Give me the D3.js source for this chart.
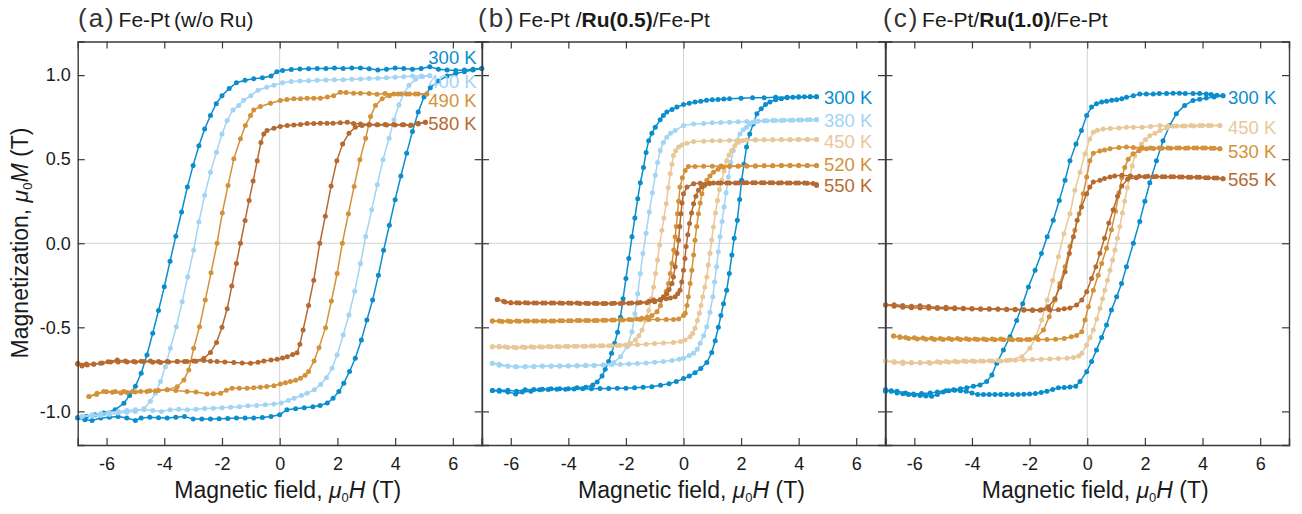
<!DOCTYPE html>
<html>
<head>
<meta charset="utf-8">
<script src="https://cdn.jsdelivr.net/npm/d3@7"></script>
<style>
  body { margin: 0; background: #fff; }
  text { font-family: "Liberation Sans", Arial, sans-serif; fill: #1a1a1a; }
</style>
</head>
<body>
<div id="chart"></div>
<script>
// ---- data: [field (T), magnetization (T)] ----
// (a) Fe-Pt (w/o Ru)
var a300Down = [[7.0,1.04],[6.7,1.035],[6.4,1.03],[6.1,1.028],[5.8,1.03],[5.5,1.035],[5.2,1.05],[4.9,1.04],[4.6,1.035],[4.3,1.04],[4.0,1.043],[3.7,1.035],[3.4,1.03],[3.1,1.038],[2.8,1.043],[2.5,1.042],[2.2,1.04],[1.9,1.042],[1.6,1.04],[1.3,1.04],[1.0,1.038],[0.7,1.036],[0.4,1.034],[0.1,1.028],[-0.1,1.02],[-0.3,0.995],[-0.6,0.985],[-0.9,0.978],[-1.2,0.97],[-1.5,0.955],[-1.75,0.92],[-2.0,0.878],[-2.2,0.83],[-2.4,0.76],[-2.6,0.68],[-2.8,0.58],[-3.0,0.463],[-3.2,0.334],[-3.4,0.186],[-3.6,0.042],[-3.8,-0.107],[-4.0,-0.259],[-4.2,-0.40],[-4.4,-0.536],[-4.6,-0.665],[-4.8,-0.773],[-5.0,-0.85],[-5.2,-0.905],[-5.4,-0.952],[-5.7,-0.99],[-6.1,-1.01],[-6.4,-1.02],[-6.7,-1.03],[-7.0,-1.037]];
var a300Up = [[-7.0,-1.04],[-6.75,-1.05],[-6.5,-1.054],[-6.2,-1.04],[-5.9,-1.035],[-5.6,-1.03],[-5.3,-1.04],[-5.0,-1.054],[-4.8,-1.04],[-4.5,-1.035],[-4.2,-1.038],[-3.9,-1.04],[-3.6,-1.035],[-3.3,-1.03],[-3.0,-1.046],[-2.7,-1.046],[-2.4,-1.046],[-2.1,-1.044],[-1.8,-1.042],[-1.5,-1.04],[-1.2,-1.04],[-0.9,-1.04],[-0.6,-1.036],[-0.3,-1.03],[0.0,-1.02],[0.25,-0.99],[0.55,-0.985],[0.85,-0.978],[1.15,-0.972],[1.4,-0.965],[1.65,-0.95],[1.85,-0.922],[2.05,-0.882],[2.22,-0.833],[2.42,-0.763],[2.62,-0.684],[2.83,-0.576],[3.02,-0.457],[3.22,-0.338],[3.42,-0.19],[3.6,-0.042],[3.8,0.107],[4.0,0.259],[4.2,0.40],[4.4,0.536],[4.6,0.665],[4.8,0.78],[5.0,0.87],[5.22,0.925],[5.5,0.965],[5.8,0.995],[6.1,1.01],[6.4,1.02],[6.7,1.03],[7.0,1.04]];
var a400Down = [[5.2,0.997],[4.9,0.995],[4.6,0.995],[4.3,0.99],[4.0,0.987],[3.7,0.985],[3.4,0.982],[3.1,0.98],[2.8,0.977],[2.5,0.975],[2.2,0.973],[1.9,0.972],[1.6,0.971],[1.3,0.969],[1.0,0.967],[0.7,0.965],[0.4,0.962],[0.1,0.955],[-0.2,0.94],[-0.45,0.928],[-0.75,0.91],[-1.0,0.878],[-1.25,0.85],[-1.42,0.82],[-1.62,0.793],[-1.82,0.73],[-2.0,0.65],[-2.19,0.542],[-2.4,0.423],[-2.6,0.285],[-2.8,0.127],[-2.98,-0.04],[-3.19,-0.20],[-3.38,-0.348],[-3.58,-0.497],[-3.79,-0.625],[-3.96,-0.734],[-4.13,-0.823],[-4.31,-0.892],[-4.48,-0.94],[-4.71,-0.985],[-5.0,-1.0],[-5.3,-1.005],[-5.6,-1.01],[-5.9,-1.018],[-6.2,-1.024],[-6.5,-1.027],[-6.85,-1.03]];
var a400Up = [[-6.85,-1.03],[-6.5,-1.02],[-6.2,-1.012],[-5.9,-1.007],[-5.6,-1.0],[-5.3,-0.995],[-5.0,-0.99],[-4.7,-0.99],[-4.4,-0.995],[-4.1,-1.0],[-3.8,-0.99],[-3.5,-0.987],[-3.2,-0.99],[-2.9,-0.988],[-2.6,-0.983],[-2.3,-0.981],[-2.0,-0.978],[-1.7,-0.975],[-1.4,-0.972],[-1.1,-0.967],[-0.8,-0.965],[-0.5,-0.961],[-0.2,-0.956],[0.05,-0.95],[0.3,-0.935],[0.5,-0.922],[0.75,-0.905],[0.95,-0.892],[1.2,-0.872],[1.42,-0.84],[1.62,-0.8],[1.81,-0.744],[1.99,-0.665],[2.2,-0.546],[2.4,-0.427],[2.6,-0.285],[2.8,-0.12],[2.98,0.04],[3.19,0.2],[3.38,0.348],[3.58,0.497],[3.79,0.625],[3.96,0.734],[4.13,0.823],[4.31,0.892],[4.48,0.94],[4.71,0.975],[4.95,0.99],[5.2,0.997]];
var a490Down = [[5.1,0.888],[4.8,0.888],[4.5,0.888],[4.2,0.887],[3.95,0.888],[3.65,0.89],[3.37,0.886],[3.1,0.89],[2.8,0.892],[2.56,0.892],[2.3,0.896],[2.1,0.898],[1.87,0.878],[1.65,0.87],[1.41,0.862],[1.18,0.862],[0.95,0.862],[0.72,0.86],[0.49,0.859],[0.25,0.855],[0.02,0.849],[-0.32,0.833],[-0.67,0.813],[-0.9,0.793],[-1.01,0.76],[-1.19,0.70],[-1.36,0.621],[-1.59,0.502],[-1.79,0.344],[-1.99,0.18],[-2.17,0.0],[-2.38,-0.176],[-2.58,-0.338],[-2.78,-0.497],[-2.98,-0.625],[-3.15,-0.754],[-3.32,-0.813],[-3.55,-0.853],[-3.9,-0.872],[-4.2,-0.876],[-4.5,-0.878],[-4.82,-0.882],[-5.1,-0.882],[-5.4,-0.882],[-5.7,-0.882],[-6.0,-0.884],[-6.33,-0.892],[-6.61,-0.912]];
var a490Up = [[-6.61,-0.912],[-6.35,-0.9],[-6.1,-0.882],[-5.8,-0.886],[-5.5,-0.89],[-5.29,-0.888],[-5.0,-0.885],[-4.6,-0.882],[-4.3,-0.877],[-3.9,-0.872],[-3.6,-0.876],[-3.21,-0.882],[-2.9,-0.885],[-2.52,-0.896],[-2.3,-0.895],[-2.05,-0.892],[-1.85,-0.875],[-1.65,-0.862],[-1.4,-0.862],[-1.13,-0.862],[-0.9,-0.86],[-0.67,-0.856],[-0.45,-0.852],[-0.2,-0.848],[0.02,-0.837],[0.2,-0.83],[0.37,-0.823],[0.55,-0.815],[0.72,-0.803],[0.88,-0.785],[1.0,-0.763],[1.19,-0.70],[1.36,-0.621],[1.59,-0.502],[1.79,-0.344],[1.99,-0.18],[2.17,0.0],[2.38,0.176],[2.58,0.338],[2.78,0.497],[2.98,0.625],[3.15,0.754],[3.32,0.82],[3.55,0.86],[3.8,0.878],[4.1,0.888],[4.4,0.888],[4.7,0.887],[5.1,0.888]];
var a580Down = [[5.05,0.72],[4.8,0.714],[4.53,0.70],[4.25,0.705],[3.95,0.706],[3.65,0.706],[3.37,0.705],[3.1,0.708],[2.8,0.71],[2.56,0.712],[2.34,0.72],[2.1,0.716],[1.85,0.714],[1.64,0.714],[1.41,0.714],[1.18,0.712],[0.95,0.712],[0.72,0.706],[0.49,0.704],[0.26,0.70],[0.02,0.694],[-0.2,0.684],[-0.44,0.67],[-0.55,0.65],[-0.65,0.6],[-0.78,0.49],[-0.92,0.37],[-1.06,0.255],[-1.2,0.136],[-1.36,0.0],[-1.5,-0.12],[-1.66,-0.255],[-1.82,-0.39],[-2.0,-0.5],[-2.19,-0.59],[-2.4,-0.65],[-2.63,-0.685],[-2.98,-0.70],[-3.3,-0.704],[-3.55,-0.704],[-3.85,-0.706],[-4.13,-0.71],[-4.4,-0.708],[-4.71,-0.704],[-5.0,-0.706],[-5.29,-0.707],[-5.6,-0.707],[-5.86,-0.707],[-6.15,-0.712],[-6.44,-0.72],[-6.7,-0.718],[-7.0,-0.714]];
var a580Up = [[-7.0,-0.72],[-6.85,-0.73],[-6.67,-0.724],[-6.45,-0.718],[-6.21,-0.714],[-5.95,-0.705],[-5.63,-0.695],[-5.35,-0.70],[-5.06,-0.704],[-4.8,-0.702],[-4.48,-0.7],[-4.2,-0.703],[-3.9,-0.704],[-3.55,-0.703],[-3.21,-0.704],[-2.9,-0.702],[-2.63,-0.698],[-2.4,-0.702],[-2.17,-0.704],[-1.9,-0.706],[-1.59,-0.71],[-1.3,-0.712],[-1.01,-0.714],[-0.75,-0.708],[-0.55,-0.70],[-0.3,-0.695],[-0.09,-0.69],[0.1,-0.682],[0.26,-0.675],[0.45,-0.662],[0.6,-0.651],[0.7,-0.6],[0.81,-0.516],[1.0,-0.37],[1.18,-0.22],[1.39,0.0],[1.58,0.16],[1.78,0.34],[1.98,0.49],[2.18,0.59],[2.4,0.655],[2.62,0.69],[2.85,0.70],[3.1,0.704],[3.4,0.705],[3.7,0.704],[4.0,0.704],[4.3,0.705],[4.55,0.704],[4.8,0.71],[5.05,0.72]];

// (b) Fe-Pt/Ru(0.5)/Fe-Pt
var b300Down = [[4.62,0.872],[4.4,0.872],[4.0,0.87],[3.6,0.869],[3.2,0.868],[2.8,0.866],[2.4,0.865],[2.0,0.862],[1.6,0.86],[1.4,0.858],[1.2,0.855],[1.0,0.853],[0.8,0.85],[0.6,0.845],[0.4,0.84],[0.2,0.832],[0.0,0.825],[-0.23,0.81],[-0.4,0.795],[-0.58,0.78],[-0.7,0.76],[-0.81,0.734],[-0.98,0.69],[-1.1,0.655],[-1.21,0.61],[-1.3,0.54],[-1.39,0.45],[-1.5,0.36],[-1.59,0.265],[-1.69,0.15],[-1.79,0.038],[-1.9,-0.09],[-2.0,-0.21],[-2.1,-0.33],[-2.19,-0.44],[-2.29,-0.53],[-2.39,-0.595],[-2.5,-0.655],[-2.6,-0.704],[-2.72,-0.75],[-2.83,-0.79],[-3.0,-0.825],[-3.15,-0.843],[-3.4,-0.857],[-3.7,-0.86],[-4.0,-0.865],[-4.3,-0.866],[-4.6,-0.866],[-4.9,-0.868],[-5.2,-0.87],[-5.5,-0.872],[-5.8,-0.88],[-6.1,-0.875],[-6.4,-0.874],[-6.64,-0.876]];
var b300Up = [[-6.64,-0.876],[-6.4,-0.88],[-6.1,-0.885],[-5.83,-0.896],[-5.6,-0.885],[-5.3,-0.88],[-5.0,-0.872],[-4.7,-0.87],[-4.4,-0.868],[-4.1,-0.868],[-3.8,-0.867],[-3.5,-0.866],[-3.2,-0.865],[-2.9,-0.864],[-2.6,-0.864],[-2.3,-0.863],[-2.0,-0.862],[-1.7,-0.86],[-1.4,-0.857],[-1.1,-0.853],[-0.8,-0.845],[-0.5,-0.835],[-0.25,-0.823],[0.0,-0.805],[0.2,-0.79],[0.4,-0.77],[0.6,-0.745],[0.81,-0.71],[0.98,-0.65],[1.1,-0.58],[1.21,-0.5],[1.3,-0.43],[1.39,-0.36],[1.5,-0.28],[1.59,-0.18],[1.68,-0.07],[1.76,0.03],[1.87,0.137],[1.95,0.26],[2.02,0.374],[2.1,0.47],[2.19,0.572],[2.3,0.65],[2.42,0.71],[2.55,0.77],[2.7,0.8],[2.85,0.825],[3.0,0.84],[3.2,0.853],[3.4,0.86],[3.6,0.865],[3.8,0.868],[4.0,0.87],[4.2,0.871],[4.4,0.872],[4.62,0.872]];
var b380Down = [[4.62,0.734],[4.3,0.734],[4.0,0.733],[3.7,0.732],[3.4,0.73],[3.1,0.73],[2.8,0.728],[2.5,0.726],[2.2,0.724],[1.9,0.722],[1.6,0.72],[1.3,0.718],[1.0,0.716],[0.7,0.713],[0.35,0.71],[0.0,0.70],[-0.29,0.67],[-0.45,0.655],[-0.58,0.63],[-0.7,0.6],[-0.81,0.552],[-0.9,0.48],[-0.98,0.404],[-1.08,0.3],[-1.19,0.186],[-1.3,0.06],[-1.41,-0.061],[-1.5,-0.18],[-1.59,-0.30],[-1.69,-0.42],[-1.79,-0.526],[-1.96,-0.615],[-2.19,-0.675],[-2.42,-0.71],[-2.77,-0.724],[-3.1,-0.727],[-3.4,-0.728],[-3.7,-0.73],[-4.0,-0.73],[-4.3,-0.731],[-4.6,-0.732],[-4.9,-0.732],[-5.2,-0.733],[-5.5,-0.733],[-5.83,-0.734],[-6.1,-0.73],[-6.4,-0.72],[-6.64,-0.714]];
var b380Up = [[-6.64,-0.714],[-6.4,-0.725],[-6.1,-0.732],[-5.8,-0.734],[-5.5,-0.735],[-5.2,-0.733],[-4.9,-0.73],[-4.6,-0.73],[-4.3,-0.728],[-4.0,-0.728],[-3.7,-0.727],[-3.4,-0.726],[-3.1,-0.725],[-2.8,-0.724],[-2.5,-0.722],[-2.2,-0.72],[-1.9,-0.718],[-1.6,-0.715],[-1.3,-0.712],[-1.0,-0.708],[-0.7,-0.703],[-0.4,-0.697],[-0.15,-0.69],[0.0,-0.684],[0.2,-0.668],[0.35,-0.655],[0.48,-0.63],[0.58,-0.595],[0.7,-0.55],[0.81,-0.497],[0.92,-0.41],[1.02,-0.318],[1.08,-0.23],[1.15,-0.14],[1.21,-0.05],[1.27,0.038],[1.34,0.13],[1.41,0.216],[1.48,0.3],[1.56,0.394],[1.64,0.48],[1.73,0.552],[1.85,0.61],[1.96,0.65],[2.08,0.675],[2.19,0.69],[2.3,0.706],[2.42,0.72],[2.6,0.726],[2.9,0.728],[3.2,0.73],[3.5,0.731],[3.8,0.732],[4.1,0.733],[4.4,0.734],[4.62,0.734]];
var b450Down = [[4.62,0.617],[4.3,0.617],[4.0,0.617],[3.7,0.616],[3.4,0.616],[3.1,0.615],[2.8,0.615],[2.5,0.614],[2.2,0.613],[1.9,0.612],[1.6,0.611],[1.27,0.61],[1.0,0.609],[0.7,0.607],[0.35,0.605],[0.12,0.595],[-0.05,0.585],[-0.17,0.572],[-0.27,0.55],[-0.35,0.522],[-0.4,0.47],[-0.46,0.413],[-0.53,0.33],[-0.6,0.235],[-0.68,0.15],[-0.75,0.077],[-0.83,-0.01],[-0.9,-0.10],[-0.97,-0.18],[-1.04,-0.26],[-1.12,-0.33],[-1.21,-0.40],[-1.32,-0.46],[-1.44,-0.516],[-1.55,-0.55],[-1.67,-0.576],[-1.85,-0.595],[-2.02,-0.605],[-2.3,-0.608],[-2.6,-0.61],[-2.9,-0.61],[-3.2,-0.611],[-3.5,-0.612],[-3.8,-0.612],[-4.1,-0.613],[-4.4,-0.614],[-4.7,-0.614],[-5.0,-0.615],[-5.3,-0.616],[-5.6,-0.617],[-5.9,-0.618],[-6.2,-0.615],[-6.4,-0.613],[-6.64,-0.615]];
var b450Up = [[-6.64,-0.615],[-6.4,-0.617],[-6.1,-0.62],[-5.8,-0.622],[-5.5,-0.62],[-5.2,-0.618],[-4.9,-0.617],[-4.6,-0.616],[-4.3,-0.615],[-4.0,-0.614],[-3.7,-0.613],[-3.4,-0.612],[-3.1,-0.611],[-2.8,-0.61],[-2.5,-0.609],[-2.2,-0.607],[-1.9,-0.605],[-1.6,-0.603],[-1.3,-0.6],[-1.0,-0.597],[-0.7,-0.594],[-0.35,-0.59],[-0.1,-0.585],[0.05,-0.575],[0.23,-0.556],[0.32,-0.535],[0.4,-0.506],[0.48,-0.46],[0.55,-0.417],[0.61,-0.37],[0.67,-0.318],[0.74,-0.26],[0.81,-0.20],[0.86,-0.13],[0.92,-0.06],[0.98,0.02],[1.04,0.097],[1.11,0.18],[1.18,0.255],[1.25,0.32],[1.33,0.374],[1.41,0.43],[1.5,0.49],[1.58,0.525],[1.67,0.552],[1.78,0.58],[1.9,0.60],[2.05,0.61],[2.19,0.614],[2.5,0.615],[2.8,0.616],[3.1,0.616],[3.4,0.617],[3.7,0.617],[4.0,0.617],[4.3,0.618],[4.62,0.617]];
var b520Down = [[4.62,0.463],[4.3,0.463],[4.0,0.463],[3.7,0.462],[3.4,0.462],[3.1,0.461],[2.8,0.461],[2.5,0.46],[2.2,0.46],[1.9,0.46],[1.6,0.459],[1.3,0.459],[1.0,0.458],[0.7,0.458],[0.4,0.457],[0.17,0.457],[0.06,0.433],[-0.04,0.39],[-0.12,0.334],[-0.17,0.25],[-0.21,0.176],[-0.25,0.1],[-0.29,0.038],[-0.34,-0.04],[-0.4,-0.12],[-0.46,-0.18],[-0.52,-0.24],[-0.6,-0.285],[-0.69,-0.318],[-0.8,-0.37],[-0.92,-0.407],[-1.1,-0.43],[-1.27,-0.44],[-1.45,-0.446],[-1.62,-0.45],[-1.9,-0.453],[-2.2,-0.455],[-2.5,-0.457],[-2.8,-0.458],[-3.1,-0.459],[-3.4,-0.46],[-3.7,-0.46],[-4.0,-0.461],[-4.3,-0.461],[-4.6,-0.462],[-4.9,-0.462],[-5.2,-0.462],[-5.5,-0.463],[-5.8,-0.463],[-6.1,-0.463],[-6.4,-0.463],[-6.64,-0.463]];
var b520Up = [[-6.64,-0.463],[-6.3,-0.465],[-6.0,-0.466],[-5.7,-0.464],[-5.4,-0.463],[-5.1,-0.463],[-4.8,-0.462],[-4.5,-0.462],[-4.2,-0.461],[-3.9,-0.461],[-3.6,-0.46],[-3.3,-0.46],[-3.0,-0.459],[-2.7,-0.458],[-2.4,-0.457],[-2.1,-0.456],[-1.8,-0.455],[-1.5,-0.454],[-1.2,-0.454],[-0.9,-0.453],[-0.6,-0.453],[-0.35,-0.453],[-0.17,-0.45],[0.0,-0.43],[0.06,-0.417],[0.12,-0.37],[0.17,-0.318],[0.23,-0.24],[0.29,-0.16],[0.35,-0.07],[0.4,0.018],[0.46,0.1],[0.52,0.176],[0.58,0.24],[0.64,0.295],[0.72,0.34],[0.81,0.374],[0.92,0.4],[1.04,0.423],[1.2,0.44],[1.39,0.453],[1.6,0.456],[1.9,0.458],[2.2,0.459],[2.5,0.46],[2.8,0.461],[3.1,0.461],[3.4,0.462],[3.7,0.462],[4.0,0.463],[4.3,0.463],[4.62,0.463]];
var b550Down = [[4.62,0.344],[4.5,0.355],[4.2,0.358],[3.9,0.358],[3.6,0.359],[3.3,0.359],[3.0,0.36],[2.7,0.36],[2.4,0.36],[2.1,0.36],[1.8,0.359],[1.5,0.358],[1.2,0.358],[0.9,0.357],[0.58,0.357],[0.35,0.354],[0.12,0.334],[0.0,0.295],[-0.05,0.24],[-0.09,0.176],[-0.13,0.1],[-0.17,0.018],[-0.23,-0.06],[-0.29,-0.14],[-0.35,-0.2],[-0.4,-0.24],[-0.5,-0.275],[-0.58,-0.30],[-0.7,-0.32],[-0.81,-0.338],[-1.0,-0.348],[-1.27,-0.354],[-1.6,-0.356],[-1.9,-0.357],[-2.2,-0.358],[-2.5,-0.358],[-2.8,-0.358],[-3.1,-0.357],[-3.4,-0.357],[-3.7,-0.356],[-4.0,-0.356],[-4.3,-0.355],[-4.6,-0.355],[-4.9,-0.355],[-5.2,-0.355],[-5.5,-0.354],[-5.8,-0.354],[-6.0,-0.354],[-6.25,-0.345],[-6.47,-0.334]];
var b550Up = [[-6.47,-0.334],[-6.2,-0.35],[-6.0,-0.354],[-5.7,-0.356],[-5.4,-0.356],[-5.1,-0.356],[-4.8,-0.355],[-4.5,-0.356],[-4.2,-0.357],[-3.9,-0.357],[-3.6,-0.358],[-3.3,-0.358],[-3.0,-0.358],[-2.7,-0.358],[-2.4,-0.357],[-2.1,-0.356],[-1.8,-0.355],[-1.5,-0.352],[-1.2,-0.345],[-1.04,-0.338],[-0.8,-0.335],[-0.6,-0.33],[-0.46,-0.325],[-0.29,-0.318],[-0.2,-0.3],[-0.12,-0.279],[-0.06,-0.23],[0.0,-0.16],[0.05,-0.09],[0.09,-0.02],[0.15,0.05],[0.21,0.117],[0.28,0.18],[0.35,0.235],[0.43,0.28],[0.52,0.315],[0.63,0.335],[0.75,0.35],[0.9,0.355],[1.04,0.358],[1.3,0.358],[1.6,0.359],[1.9,0.359],[2.2,0.36],[2.5,0.36],[2.8,0.36],[3.1,0.36],[3.4,0.36],[3.7,0.359],[4.0,0.358],[4.3,0.357],[4.62,0.35]];

// (c) Fe-Pt/Ru(1.0)/Fe-Pt
var c300Down = [[4.71,0.878],[4.5,0.88],[4.3,0.885],[4.13,0.888],[3.9,0.89],[3.67,0.89],[3.4,0.891],[3.2,0.892],[2.98,0.892],[2.75,0.891],[2.5,0.89],[2.29,0.888],[2.05,0.888],[1.82,0.888],[1.6,0.878],[1.36,0.868],[1.2,0.86],[1.02,0.853],[0.85,0.85],[0.67,0.845],[0.5,0.84],[0.32,0.829],[0.15,0.81],[-0.02,0.76],[-0.2,0.67],[-0.39,0.59],[-0.6,0.49],[-0.77,0.374],[-0.97,0.255],[-1.18,0.137],[-1.39,0.038],[-1.59,-0.061],[-1.81,-0.16],[-2.04,-0.26],[-2.24,-0.36],[-2.45,-0.46],[-2.68,-0.556],[-2.91,-0.635],[-3.14,-0.714],[-3.31,-0.783],[-3.49,-0.823],[-3.72,-0.843],[-3.95,-0.85],[-4.18,-0.86],[-4.4,-0.865],[-4.64,-0.872],[-4.9,-0.878],[-5.2,-0.885],[-5.45,-0.89],[-5.75,-0.893],[-6.03,-0.896],[-6.3,-0.89],[-6.6,-0.88],[-6.8,-0.878],[-7.0,-0.88]];
var c300Up = [[-7.0,-0.87],[-6.8,-0.88],[-6.6,-0.89],[-6.4,-0.895],[-6.2,-0.9],[-6.0,-0.903],[-5.8,-0.905],[-5.6,-0.908],[-5.4,-0.91],[-5.2,-0.9],[-5.0,-0.885],[-4.8,-0.878],[-4.6,-0.875],[-4.4,-0.877],[-4.2,-0.88],[-4.0,-0.89],[-3.8,-0.9],[-3.6,-0.9],[-3.4,-0.9],[-3.2,-0.9],[-3.0,-0.9],[-2.8,-0.9],[-2.6,-0.9],[-2.4,-0.899],[-2.2,-0.898],[-2.0,-0.896],[-1.8,-0.893],[-1.6,-0.888],[-1.4,-0.88],[-1.2,-0.87],[-1.0,-0.86],[-0.8,-0.858],[-0.6,-0.855],[-0.4,-0.85],[-0.25,-0.823],[-0.02,-0.764],[0.15,-0.704],[0.32,-0.635],[0.5,-0.56],[0.67,-0.486],[0.84,-0.397],[1.02,-0.318],[1.19,-0.24],[1.36,-0.14],[1.6,0.0],[1.82,0.13],[2.0,0.25],[2.17,0.36],[2.4,0.49],[2.63,0.61],[2.86,0.70],[3.09,0.77],[3.38,0.82],[3.67,0.849],[3.9,0.857],[4.13,0.864],[4.4,0.87],[4.71,0.878]];
var c450Down = [[4.6,0.70],[4.3,0.70],[4.0,0.70],[3.7,0.698],[3.4,0.697],[3.1,0.698],[2.8,0.697],[2.52,0.70],[2.2,0.695],[1.9,0.69],[1.6,0.69],[1.36,0.69],[1.1,0.685],[0.8,0.682],[0.55,0.68],[0.35,0.672],[0.21,0.66],[0.09,0.62],[-0.08,0.532],[-0.25,0.423],[-0.43,0.315],[-0.6,0.176],[-0.81,0.057],[-1.0,-0.08],[-1.2,-0.22],[-1.39,-0.338],[-1.58,-0.457],[-1.78,-0.556],[-1.99,-0.625],[-2.27,-0.675],[-2.68,-0.694],[-3.0,-0.70],[-3.3,-0.70],[-3.6,-0.702],[-3.9,-0.703],[-4.2,-0.704],[-4.5,-0.706],[-4.8,-0.708],[-5.1,-0.71],[-5.45,-0.714],[-5.8,-0.712],[-6.1,-0.71],[-6.4,-0.706],[-6.7,-0.704],[-7.0,-0.70]];
var c450Up = [[-7.0,-0.70],[-6.7,-0.71],[-6.4,-0.715],[-6.1,-0.712],[-5.8,-0.71],[-5.5,-0.708],[-5.2,-0.705],[-4.9,-0.703],[-4.6,-0.702],[-4.3,-0.701],[-4.0,-0.7],[-3.7,-0.7],[-3.4,-0.699],[-3.1,-0.698],[-2.8,-0.697],[-2.5,-0.696],[-2.2,-0.694],[-1.9,-0.692],[-1.6,-0.69],[-1.3,-0.688],[-1.0,-0.686],[-0.7,-0.684],[-0.48,-0.68],[-0.3,-0.67],[-0.19,-0.655],[-0.02,-0.605],[0.1,-0.56],[0.21,-0.516],[0.33,-0.45],[0.44,-0.388],[0.53,-0.33],[0.61,-0.28],[0.7,-0.22],[0.79,-0.16],[0.88,-0.1],[0.96,-0.04],[1.05,0.03],[1.13,0.1],[1.22,0.18],[1.3,0.25],[1.39,0.33],[1.48,0.4],[1.56,0.46],[1.65,0.52],[1.76,0.56],[1.88,0.59],[2.02,0.615],[2.17,0.64],[2.35,0.655],[2.52,0.67],[2.75,0.685],[2.98,0.696],[3.3,0.698],[3.6,0.7],[3.9,0.7],[4.2,0.7],[4.6,0.70]];
var c530Down = [[4.6,0.562],[4.3,0.565],[4.0,0.566],[3.7,0.566],[3.4,0.565],[3.1,0.566],[2.8,0.566],[2.5,0.567],[2.2,0.567],[1.9,0.568],[1.6,0.57],[1.36,0.572],[1.1,0.57],[0.79,0.562],[0.6,0.555],[0.44,0.548],[0.21,0.536],[0.09,0.49],[-0.02,0.394],[-0.14,0.295],[-0.28,0.176],[-0.43,0.077],[-0.6,-0.02],[-0.77,-0.14],[-0.95,-0.24],[-1.12,-0.338],[-1.32,-0.437],[-1.52,-0.516],[-1.76,-0.56],[-2.1,-0.572],[-2.4,-0.572],[-2.7,-0.571],[-3.0,-0.57],[-3.3,-0.57],[-3.6,-0.569],[-3.9,-0.569],[-4.2,-0.568],[-4.5,-0.567],[-4.8,-0.566],[-5.1,-0.566],[-5.4,-0.565],[-5.7,-0.564],[-6.0,-0.562],[-6.3,-0.56],[-6.5,-0.556],[-6.72,-0.552]];
var c530Up = [[-6.72,-0.552],[-6.5,-0.56],[-6.2,-0.566],[-5.9,-0.57],[-5.6,-0.571],[-5.3,-0.572],[-5.0,-0.572],[-4.7,-0.572],[-4.4,-0.572],[-4.1,-0.573],[-3.8,-0.573],[-3.5,-0.574],[-3.2,-0.574],[-2.9,-0.574],[-2.6,-0.574],[-2.3,-0.574],[-2.0,-0.573],[-1.7,-0.573],[-1.4,-0.572],[-1.1,-0.571],[-0.8,-0.566],[-0.55,-0.556],[-0.37,-0.548],[-0.19,-0.526],[-0.08,-0.457],[0.04,-0.378],[0.21,-0.28],[0.38,-0.19],[0.5,-0.12],[0.67,-0.03],[0.84,0.08],[0.98,0.19],[1.1,0.3],[1.2,0.39],[1.3,0.45],[1.42,0.5],[1.59,0.532],[1.8,0.55],[2.06,0.562],[2.3,0.564],[2.6,0.565],[2.9,0.565],[3.2,0.566],[3.5,0.566],[3.8,0.566],[4.1,0.566],[4.4,0.565],[4.6,0.562]];
var c565Down = [[4.71,0.384],[4.5,0.388],[4.2,0.39],[3.9,0.392],[3.6,0.393],[3.3,0.394],[3.0,0.395],[2.7,0.396],[2.4,0.397],[2.1,0.398],[1.8,0.398],[1.5,0.4],[1.2,0.404],[0.95,0.4],[0.79,0.394],[0.6,0.385],[0.44,0.374],[0.21,0.364],[0.09,0.334],[-0.02,0.295],[-0.2,0.216],[-0.35,0.137],[-0.48,0.038],[-0.62,-0.061],[-0.77,-0.17],[-0.95,-0.26],[-1.12,-0.33],[-1.35,-0.378],[-1.64,-0.398],[-1.9,-0.4],[-2.2,-0.398],[-2.5,-0.395],[-2.8,-0.394],[-3.1,-0.393],[-3.4,-0.392],[-3.7,-0.392],[-4.0,-0.391],[-4.3,-0.39],[-4.6,-0.39],[-4.9,-0.389],[-5.2,-0.388],[-5.5,-0.386],[-5.8,-0.385],[-6.1,-0.384],[-6.4,-0.38],[-6.7,-0.374],[-7.0,-0.368]];
var c565Up = [[-7.0,-0.368],[-6.7,-0.366],[-6.4,-0.37],[-6.1,-0.375],[-5.8,-0.372],[-5.5,-0.376],[-5.2,-0.382],[-4.9,-0.38],[-4.6,-0.384],[-4.3,-0.386],[-4.0,-0.388],[-3.7,-0.389],[-3.4,-0.39],[-3.1,-0.391],[-2.8,-0.392],[-2.5,-0.393],[-2.2,-0.394],[-1.9,-0.395],[-1.6,-0.396],[-1.3,-0.397],[-1.0,-0.395],[-0.8,-0.39],[-0.6,-0.385],[-0.37,-0.368],[-0.19,-0.338],[-0.02,-0.289],[0.15,-0.21],[0.3,-0.14],[0.44,-0.06],[0.6,0.03],[0.75,0.12],[0.9,0.2],[1.05,0.28],[1.2,0.34],[1.4,0.38],[1.7,0.39],[2.0,0.395],[2.3,0.396],[2.6,0.396],[2.9,0.395],[3.2,0.394],[3.5,0.393],[3.8,0.392],[4.1,0.39],[4.4,0.388],[4.71,0.384]];

// temperatures and where their labels sit (field, magnetization)
var tempsA = ["300 K", "400 K", "490 K", "580 K"];
var tempsB = ["300 K", "380 K", "450 K", "520 K", "550 K"];
var tempsC = ["300 K", "450 K", "530 K", "565 K"];
var labelFieldA = 5.15, labelFieldB = 4.88, labelFieldC = 4.88;
var labelMA = [1.107, 0.964, 0.852, 0.712];
var labelMB = [0.866, 0.733, 0.605, 0.469, 0.347];
var labelMC = [0.866, 0.688, 0.549, 0.380];

var fieldTicks = [-6, -4, -2, 0, 2, 4, 6];
var magTicks = [-1.0, -0.5, 0.0, 0.5, 1.0];

// colours per temperature
var col = {
  "300 K": "#0a8dcd", "380 K": "#a2d4f3", "400 K": "#a2d4f3",
  "450 K": "#e8c898", "490 K": "#d3923a", "520 K": "#d3923a", "530 K": "#d3923a",
  "550 K": "#b66a30", "565 K": "#b66a30", "580 K": "#b66a30"
};

var panels = [
  { tag: "(a)", left: 77.7, right: 481.7, temps: tempsA, down: [a300Down, a400Down, a490Down, a580Down], up: [a300Up, a400Up, a490Up, a580Up],
    labelField: labelFieldA, labelM: labelMA, titleX: 78,
    title: [["Fe-Pt", "normal"], ["\u2009(w/o Ru)", "normal"]] },
  { tag: "(b)", left: 482, right: 885, temps: tempsB, down: [b300Down, b380Down, b450Down, b520Down, b550Down], up: [b300Up, b380Up, b450Up, b520Up, b550Up],
    labelField: labelFieldB, labelM: labelMB, titleX: 478,
    title: [["Fe-Pt /", "normal"], ["Ru(0.5)", "bold"], ["/Fe-Pt", "normal"]] },
  { tag: "(c)", left: 885.5, right: 1289, temps: tempsC, down: [c300Down, c450Down, c530Down, c565Down], up: [c300Up, c450Up, c530Up, c565Up],
    labelField: labelFieldC, labelM: labelMC, titleX: 883,
    title: [["Fe-Pt/", "normal"], ["Ru(1.0)", "bold"], ["/Fe-Pt", "normal"]] }
];

var W = 1302, H = 514, plotTop = 41.5, plotBottom = 445;

var svg = d3.select("#chart").append("svg")
    .attr("width", W)
    .attr("height", H);

var y = d3.scaleLinear().domain([-1.2, 1.2]).range([plotBottom, plotTop]);

panels.forEach(function(p, pi) {
  var x = d3.scaleLinear().domain([-7, 7]).range([p.left, p.right]);
  var g = svg.append("g");

  // zero lines
  g.append("line").attr("x1", x(0)).attr("x2", x(0)).attr("y1", plotTop).attr("y2", plotBottom)
    .attr("stroke", "#d2d2d2").attr("stroke-width", 1);
  g.append("line").attr("x1", p.left).attr("x2", p.right).attr("y1", y(0)).attr("y2", y(0))
    .attr("stroke", "#d2d2d2").attr("stroke-width", 1);

  // loops
  var line = d3.line().x(d => x(d[0])).y(d => y(d[1]));
  p.temps.forEach(function(t, i) {
    [p.down[i], p.up[i]].forEach(function(branch) {
      g.append("path").datum(branch)
        .attr("d", line)
        .attr("fill", "none")
        .attr("stroke", col[t])
        .attr("stroke-width", 1.5);
      g.selectAll(null).data(branch).join("circle")
        .attr("cx", d => x(d[0]))
        .attr("cy", d => y(d[1]))
        .attr("r", 2.5)
        .attr("fill", col[t]);
    });
    g.append("text")
      .attr("x", x(p.labelField))
      .attr("y", y(p.labelM[i]))
      .attr("dy", "0.36em")
      .style("font-size", "18.5px")
      .style("fill", col[t])
      .text(t);
  });

  // axes, ticks pointing inward on all four sides
  var fmtX = d => String(d);
  g.append("g").attr("transform", `translate(0,${plotBottom})`)
    .call(d3.axisBottom(x).tickValues(fieldTicks).tickSize(-7).tickPadding(12).tickFormat(fmtX));
  g.append("g").attr("transform", `translate(0,${plotTop})`)
    .call(d3.axisTop(x).tickValues(fieldTicks).tickSize(-7).tickFormat(""));
  g.append("g").attr("transform", `translate(${p.left},0)`)
    .call(d3.axisLeft(y).tickValues(magTicks).tickSize(-7).tickPadding(7)
      .tickFormat(pi === 0 ? (d => d.toFixed(1)) : ""));
  g.append("g").attr("transform", `translate(${p.right},0)`)
    .call(d3.axisRight(y).tickValues(magTicks).tickSize(-7).tickFormat(""));

  g.selectAll(".domain").attr("stroke", "#3a3a3a").attr("stroke-width", 1.4);
  g.selectAll(".tick line").attr("stroke", "#3a3a3a").attr("stroke-width", 1.2);
  g.selectAll(".tick text").style("font-size", "18px").style("font-family", '"Liberation Sans", Arial, sans-serif').attr("fill", "#111");

  // x axis title
  var xt = g.append("text")
    .attr("x", (p.left + p.right) / 2 + 8)
    .attr("y", 498)
    .attr("text-anchor", "middle")
    .style("font-size", "23px");
  xt.append("tspan").text("Magnetic field, ");
  xt.append("tspan").style("font-style", "italic").text("\u03bc");
  xt.append("tspan").attr("dy", 4).style("font-size", "13px").text("0");
  xt.append("tspan").attr("dy", -4).style("font-style", "italic").text("H");
  xt.append("tspan").text(" (T)");

  // panel title
  var tt = g.append("text").attr("x", p.titleX).attr("y", 27);
  tt.append("tspan").style("font-size", "26px").style("letter-spacing", "2px").style("fill", "#333").text(p.tag);
  tt.append("tspan").text(" ").style("font-size", "10px");
  p.title.forEach(function(part) {
    tt.append("tspan").style("font-size", "21px").style("font-weight", part[1]).text(part[0]);
  });
});

// y axis title
var yt = svg.append("text")
  .attr("transform", "translate(28,243) rotate(-90)")
  .attr("text-anchor", "middle")
  .style("font-size", "23px");
yt.append("tspan").text("Magnetization, ");
yt.append("tspan").style("font-style", "italic").text("\u03bc");
yt.append("tspan").attr("dy", 4).style("font-size", "13px").text("0");
yt.append("tspan").attr("dy", -4).style("font-style", "italic").text("M");
yt.append("tspan").text(" (T)");
</script>
</body>
</html>
